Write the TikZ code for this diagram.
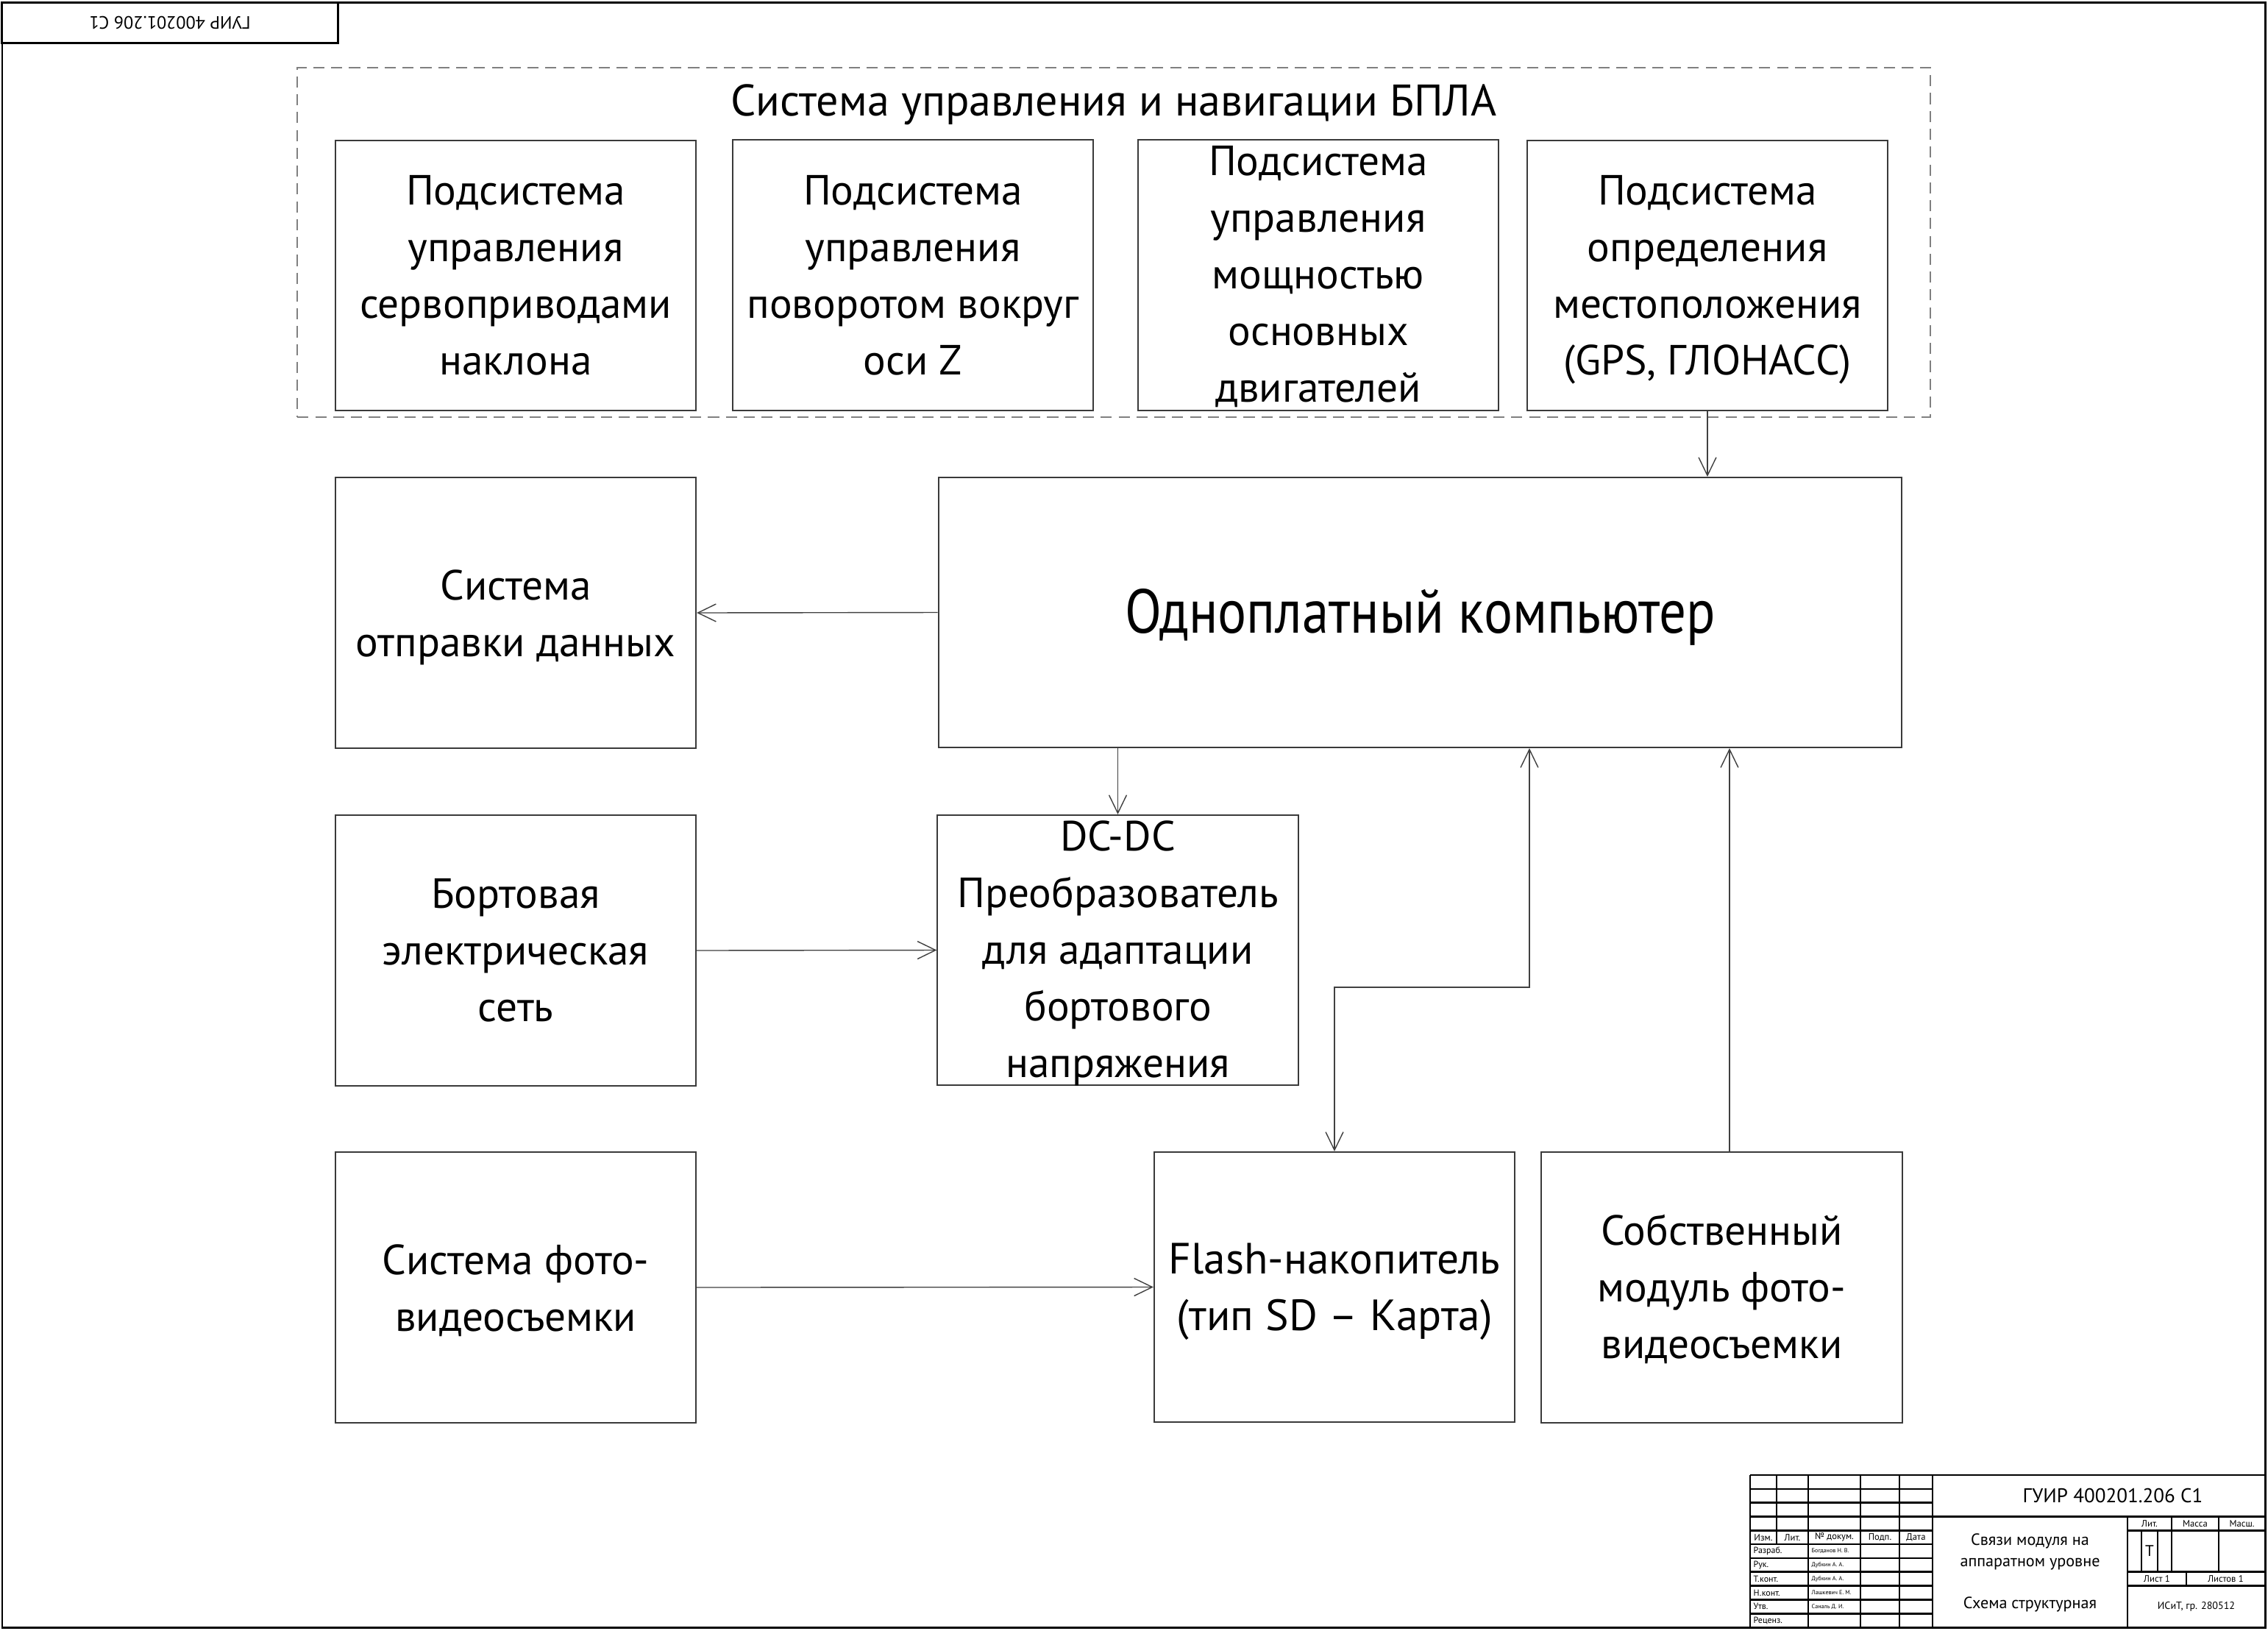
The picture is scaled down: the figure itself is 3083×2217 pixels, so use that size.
\documentclass[tikz,border=0pt]{standalone}
\usepackage{fontspec}
\setmainfont{PT Sans}
\usetikzlibrary{arrows.meta,calc}
\definecolor{boxc}{HTML}{3A3A3A}
\definecolor{grpc}{HTML}{808080}
\definecolor{arrc}{HTML}{404040}
\begin{document}
\begin{tikzpicture}[x=0.01cm,y=-0.01cm,
  blk/.style={draw=boxc, line width=0.55pt, minimum width=4.9cm, minimum height=3.67cm, inner sep=0pt},
  txt/.style={align=center, inner sep=0pt, font=\fontsize{16.3}{21.9}\selectfont},
  bigtxt/.style={align=center, inner sep=0pt, font=\fontsize{24}{28}\selectfont},
  arr/.style={draw=arrc, line width=0.4pt, -{Straight Barb[length=7pt,width=6.8pt]}},
  arrboth/.style={draw=arrc, line width=0.4pt, {Straight Barb[length=7pt,width=6.8pt]}-{Straight Barb[length=7pt,width=6.8pt]}},
  grp/.style={draw=grpc, line width=0.55pt, dash pattern=on 4.3pt off 2.6pt},
  frm/.style={draw=black, line width=0.85pt},
  stl/.style={draw=black, line width=0.75pt},
  sth/.style={inner sep=0pt, font=\fontsize{3.6}{4}\selectfont},
  stn/.style={inner sep=0pt, anchor=west, font=\fontsize{3.4}{4}\selectfont},
  sts/.style={inner sep=0pt, anchor=west, font=\fontsize{2.3}{3}\selectfont}
]
\useasboundingbox (0,0) rectangle (3083,2217);
% frame
\draw[frm] (3,3) rectangle (3079,2212);
\node[draw=black, line width=0.85pt, minimum width=4.56cm, minimum height=0.55cm, inner sep=0pt] (stamp) at (231,30.5) {};
\node[rotate=180, inner sep=0pt, font=\fontsize{6.9}{7.5}\selectfont] (stampt) at (stamp) {ГУИР 400201.206 С1};

% group
\node[grp, minimum width=22.18cm, minimum height=4.75cm, inner sep=0pt] (grpbox) at (1514,329.5) {};
\node[txt, font=\fontsize{17.1}{21.9}\selectfont] (grpt) at (1514,142) {Система управления и навигации БПЛА};

% boxes
\node[blk] (b1) at (701,374.5) {};
\node[txt] (b1t) at (b1) {Подсистема\\управления\\сервоприводами\\наклона};
\node[blk] (b2) at (1241,374) {};
\node[txt] (b2t) at (b2) {Подсистема\\управления\\поворотом вокруг\\оси Z};
\node[blk] (b3) at (1792,374) {};
\node[txt] (b3t) at ([yshift=-0.02cm]b3.center) {Подсистема\\управления\\мощностью\\основных\\двигателей};
\node[blk] (b4) at (2321,374.5) {};
\node[txt] (b4t) at ([yshift=-0.06cm]b4.center) {Подсистема\\определения\\местоположения\\(GPS, ГЛОНАСС)};

\node[blk, minimum width=13.09cm] (comp) at (1930.5,832.5) {};
\node[bigtxt] (compt) at ([yshift=-0.06cm]comp.center) {\scalebox{0.865}[1]{Одноплатный компьютер}};
\node[blk] (otp) at (701,833) {};
\node[txt] (otpt) at ([yshift=-0.06cm]otp.center) {Система\\отправки данных};

\node[blk] (bort) at (701,1292) {};
\node[txt] (bortt) at (bort) {Бортовая\\электрическая\\сеть};
\node[blk] (dc) at (1519.5,1291.5) {};
\node[txt] (dct) at ([yshift=-0.04cm]dc.center) {DC-DC\\Преобразователь\\для адаптации\\бортового\\напряжения};

\node[blk] (foto) at (701,1750) {};
\node[txt] (fotot) at ([yshift=-0.04cm]foto.center) {Система фото-\\видеосъемки};
\node[blk] (flash) at (1814,1749.5) {};
\node[txt, font=\fontsize{16.9}{21.9}\selectfont] (flasht) at ([yshift=-0.06cm]flash.center) {Flash-накопитель\\(тип SD – Карта)};
\node[blk] (sob) at (2340.5,1750) {};
\node[txt] (sobt) at ([yshift=-0.02cm]sob.center) {Собственный\\модуль фото-\\видеосъемки};

% connectors
\draw[arr] (b4.south) -- (b4.south |- comp.north);
\draw[arr] (comp.west) -- (otp.east);
\draw[arr] (comp.south -| dc.north) -- (dc.north);
\draw[arr] (bort.east) -- (dc.west);
\draw[arr] (foto.east) -- (flash.west);
\coordinate (m2) at (2079,1342);
\draw[arrboth] (flash.north) |- (m2) -- (m2 |- comp.south);
\coordinate (s1) at (2351,1566.5);
\draw[arr] (s1) -- (s1 |- comp.south);

% title block
\begin{scope}
\draw[stl] (2379,2005) -- (3079,2005);
\draw[stl] (2379,2005) -- (2379,2212);
\draw[stl] (2627,2005) -- (2627,2212);
\draw[stl] (2892,2061.5) -- (2892,2212);
\draw[stl] (2627,2061.5) -- (3079,2061.5);
\foreach \k in {1,...,10} \draw[stl] (2379,2005+\k*18.82) -- (2627,2005+\k*18.82);
\draw[stl] (2415,2005) -- (2415,2099.1);
\foreach \x in {2458,2529,2582} \draw[stl] (\x,2005) -- (\x,2212);
\draw[stl] (2892,2080.3) -- (3079,2080.3);
\draw[stl] (2892,2136.7) -- (3079,2136.7);
\draw[stl] (2892,2155.5) -- (3079,2155.5);
\draw[stl] (2911,2080.3) -- (2911,2136.7);
\draw[stl] (2933,2080.3) -- (2933,2136.7);
\draw[stl] (2952,2061.5) -- (2952,2136.7);
\draw[stl] (3016,2061.5) -- (3016,2136.7);
\draw[stl] (2972,2136.7) -- (2972,2155.5);
\end{scope}
\node[sth] (h1) at (2397,2089.7) {Изм.};
\node[sth] (h2) at (2436.5,2089.7) {Лит.};
\node[sth] (h3) at (2493.5,2089.7) {№ докум.};
\node[sth] (h4) at (2555.5,2089.7) {Подп.};
\node[sth] (h5) at (2604.5,2089.7) {Дата};
\node[stn] (n1) at (2383,2108.5) {Разраб.};
\node[stn] (n2) at (2383,2127.3) {Рук.};
\node[stn] (n3) at (2383,2146.1) {Т.конт.};
\node[stn] (n4) at (2383,2165) {Н.конт.};
\node[stn] (n5) at (2383,2183.8) {Утв.};
\node[stn] (n6) at (2383,2202.6) {Реценз.};
\node[sts] (s1n) at (2462,2108.5) {Богданов Н. В.};
\node[sts] (s2n) at (2462,2127.3) {Дубкин А. А.};
\node[sts] (s3n) at (2462,2146.1) {Дубкин А. А.};
\node[sts] (s4n) at (2462,2165) {Лашкевич Е. М.};
\node[sts] (s5n) at (2462,2183.8) {Саналь Д. И.};
\node[inner sep=0pt, font=\fontsize{7.7}{8.5}\selectfont] (des) at (2872,2033) {ГУИР 400201.206 С1};
\node[inner sep=0pt, align=center, font=\fontsize{6.3}{8.2}\selectfont] (name1) at (2759.5,2109.5) {Связи модуля на\\аппаратном уровне};
\node[inner sep=0pt, font=\fontsize{6.3}{7}\selectfont] (name2) at (2759.5,2181) {Схема структурная};
\node[sth] (l1) at (2922,2071) {Лит.};
\node[sth] (l2) at (2984,2071) {Масса};
\node[sth] (l3) at (3047.5,2071) {Масш.};
\node[inner sep=0pt, font=\fontsize{6}{7}\selectfont] (lt) at (2922,2108.5) {Т};
\node[sth] (l4) at (2932,2146) {Лист 1};
\node[sth] (l5) at (3025.5,2146) {Листов 1};
\node[inner sep=0pt, font=\fontsize{4}{5}\selectfont] (org) at (2985.5,2184) {ИСиТ, гр. 280512};
\end{tikzpicture}
\end{document}
